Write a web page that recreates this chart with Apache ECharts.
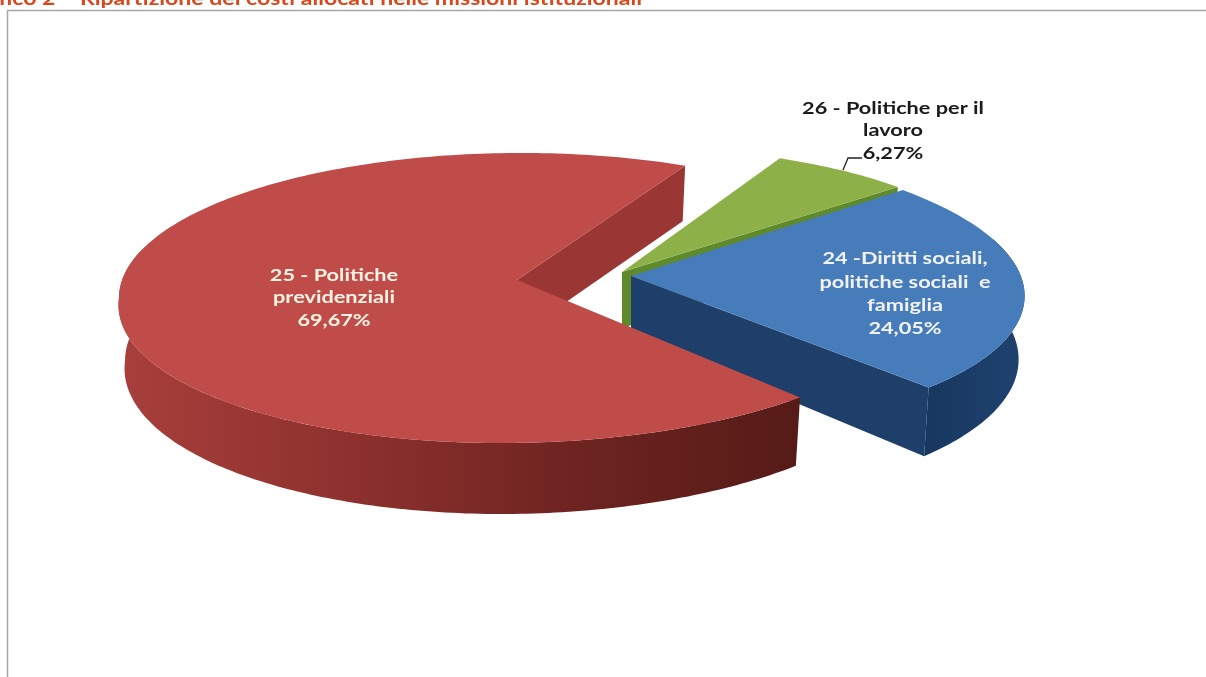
<!DOCTYPE html>
<html>
<head>
<meta charset="utf-8">
<title>Ripartizione dei costi</title>
<script src="https://cdn.jsdelivr.net/npm/echarts@6/dist/echarts.min.js"></script>
<style>
  html, body { margin: 0; padding: 0; background: #fff; }
  #main { width: 1206px; height: 677px; }
</style>
</head>
<body>
<div id="main"></div>
<script>
// clockwise order, starting from the green slice
var sliceLabels = ['26 - Politiche per il\nlavoro', '24 -Diritti sociali,\npolitiche sociali  e\nfamiglia', '25 - Politiche\nprevidenziali'];
var sliceValues = [6.27, 24.05, 69.67];
var titleText = 'Grafico 2 – Ripartizione dei costi allocati nelle missioni istituzionali';

// 3D look, one entry per slice
var startAngle = 24.6;
var sliceLayout = [
  {apex: [622, 272], center: [625, 272], rx: 372, ry: 125, skew: 0, skewFront: 0, apexDepth: 56, angleShift: 0,
    top: '#8db148', side: ['#5f8a2c', '#5f8a2c'], inner: '#5f8a2c',
    labelPos: [893, 97], labelColor: '#1a1a1a', lineHeight: 22.5},
  {apex: [631, 276], center: [626, 288], rx: 398, ry: 144, skew: 22, skewFront: 0, apexDepth: 58, angleShift: 0,
    top: '#477cba', side: ['#17375e', '#1f4270'], inner: '#1d3f69',
    labelPos: [905, 247], labelColor: '#f2f2f2', lineHeight: 23.3},
  {apex: [517, 280], center: [521, 298], rx: 402, ry: 145, skew: 0, skewFront: -20, apexDepth: 56, angleShift: -0.5,
    top: '#bf4c49', side: ['#a83f3c', '#8e312e', '#6e2421', '#561b17'], inner: '#9a3734',
    labelPos: [334, 264], labelColor: '#fdf3e3', lineHeight: 22.5}
];
var leaderLine = [[862, 158], [848, 158], [843, 170]];

function ellipsePoint(l, deg, bottom) {
  var t = deg * Math.PI / 180;
  var px = Math.sin(t), py = -Math.cos(t);
  var x = l.rx * px + l.skew * py + l.skewFront * Math.max(py, 0);
  var y = l.ry * py;
  if (bottom) {
    x = x * 0.985;
    y = y + 63 + 8 * py;
  }
  return [l.center[0] + x, l.center[1] + y];
}

function arcPoints(l, from, to, bottom) {
  var pts = [];
  var n = Math.max(2, Math.ceil(Math.abs(to - from)));
  for (var i = 0; i <= n; i++) {
    pts.push(ellipsePoint(l, from + (to - from) * i / n, bottom));
  }
  return pts;
}

var total = sliceValues.reduce(function (a, b) { return a + b; }, 0);

function renderSlice(params, api) {
  var idx = params.dataIndex;
  var l = sliceLayout[idx];
  var from = startAngle;
  for (var i = 0; i < idx; i++) {
    from += sliceValues[i] / total * 360;
  }
  var to = from + api.value(0) / total * 360;
  from += l.angleShift;
  to += l.angleShift;
  var children = [];

  // flat cut side, the one at the clockwise end faces the viewer on all three
  children.push({
    type: 'polygon',
    shape: {points: [l.apex, ellipsePoint(l, to, false), ellipsePoint(l, to, true), [l.apex[0], l.apex[1] + l.apexDepth]]},
    style: {fill: l.inner}
  });

  // outer wall, only the front part is ever seen
  var wallFrom = Math.max(from, 70), wallTo = Math.min(to, 290);
  if (wallTo > wallFrom) {
    var wall = arcPoints(l, wallFrom, wallTo, false).concat(arcPoints(l, wallTo, wallFrom, true));
    var stops = l.side.map(function (c, k) {
      return {offset: k / (l.side.length - 1), color: c};
    });
    children.push({
      type: 'polygon',
      shape: {points: wall},
      style: {fill: new echarts.graphic.LinearGradient(0, 0, 1, 0, stops)}
    });
  }

  // top face
  children.push({
    type: 'polygon',
    shape: {points: [l.apex].concat(arcPoints(l, from, to, false))},
    style: {fill: l.top}
  });

  // label
  children.push({
    type: 'text',
    x: l.labelPos[0],
    y: l.labelPos[1],
    scaleX: 1.24,
    style: {
      text: sliceLabels[idx] + '\n' + api.value(0).toFixed(2).replace('.', ',') + '%',
      x: 0,
      y: 0,
      align: 'center',
      verticalAlign: 'top',
      fontFamily: 'Lato',
      fontWeight: 'bold',
      fontSize: 17.5,
      lineHeight: l.lineHeight,
      fill: l.labelColor
    }
  });

  return {type: 'group', children: children};
}

var myChart = echarts.init(document.getElementById('main'));
var option = {
  backgroundColor: '#fff',
  animation: false,
  graphic: [
    {
      type: 'text', x: -38, y: -10, scaleX: 1.28, silent: true,
      style: {
        text: titleText,
        fontFamily: 'Lato', fontWeight: 'bold', fontSize: 18,
        fill: '#d9481c'
      }
    },
    {
      type: 'polyline', silent: true,
      shape: {points: [[7.5, 677], [7.5, 10.5], [1206, 10.5]]},
      style: {stroke: '#a6a6a6', lineWidth: 1.5, fill: null}
    },
    {
      type: 'polyline', silent: true, z: 10,
      shape: {points: leaderLine},
      style: {stroke: '#222', lineWidth: 1.3, fill: null}
    }
  ],
  series: [{
    type: 'custom',
    coordinateSystem: 'none',
    silent: true,
    renderItem: renderSlice,
    data: sliceValues
  }]
};
myChart.setOption(option);
</script>
</body>
</html>
